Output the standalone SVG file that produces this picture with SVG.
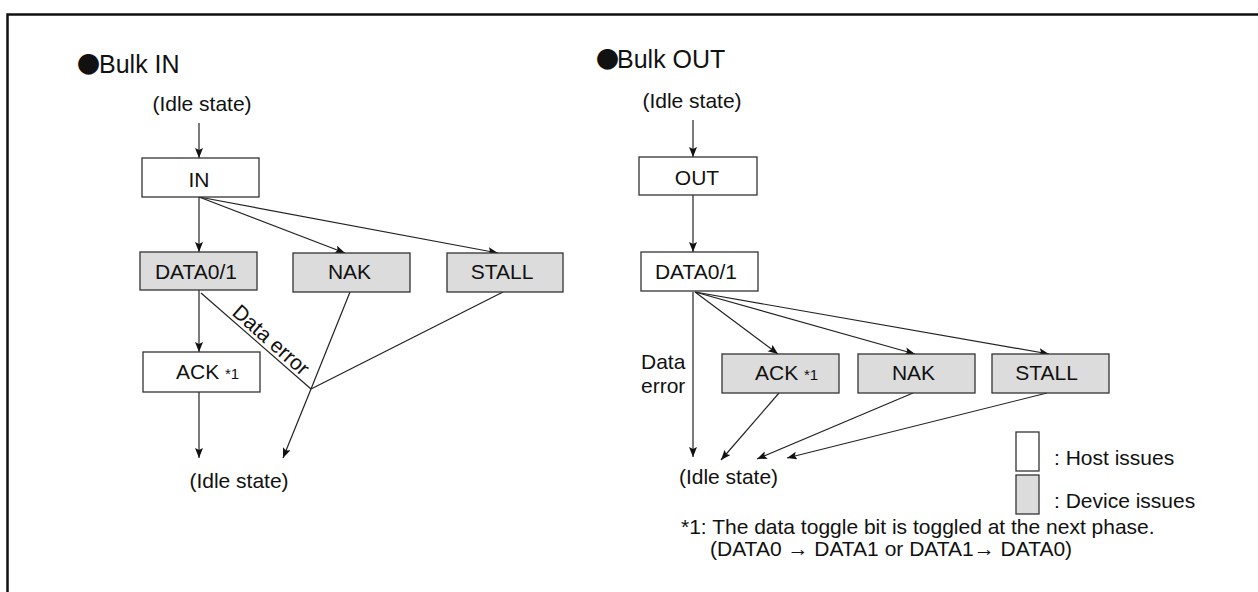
<svg xmlns="http://www.w3.org/2000/svg" width="1258" height="592" viewBox="0 0 1258 592">
<style>
text{font-family:"Liberation Sans",Arial,sans-serif;font-size:21px;fill:#111}
.t{font-size:25px}
.dot{font-family:"Noto Sans CJK JP","Liberation Sans",sans-serif;font-size:23px}
.sm{font-size:15px}
.m{text-anchor:middle}
.host{fill:#fff;stroke:#333;stroke-width:1.3}
.dev{fill:#dcdcdc;stroke:#333;stroke-width:1.3}
.c{fill:none;stroke:#222;stroke-width:1.2}
.a{marker-end:url(#ah)}
</style>
<defs>
<marker id="ah" markerUnits="userSpaceOnUse" markerWidth="12" markerHeight="10" refX="10" refY="4" orient="auto">
<path d="M0,0 L10,4 L0,8 L2,4 Z" fill="#111"/>
</marker>
</defs>
<rect width="1258" height="592" fill="#fff"/>
<path d="M7.5,592 V14.5 H1258" fill="none" stroke="#111" stroke-width="2.5"/>

<g id="titles">
<text x="77" y="73" class="t"><tspan class="dot">●</tspan><tspan x="99">Bulk IN</tspan></text>
<text x="596" y="68" class="t"><tspan class="dot">●</tspan><tspan x="617">Bulk OUT</tspan></text>
</g>

<g id="connectors">
<path class="c a" d="M199,123 V158"/>
<path class="c a" d="M199,197 V252"/>
<path class="c a" d="M199,197 L345,253"/>
<path class="c a" d="M199,197 L498,253"/>
<path class="c a" d="M199,290 V352"/>
<path class="c" d="M201,293 L311,389"/>
<path class="c" d="M350,292 L311,389"/>
<path class="c" d="M503,292 L311,389"/>
<path class="c a" d="M311,389 L283,458"/>
<path class="c a" d="M199,392 V458"/>
<text transform="translate(231,314) rotate(41.5)">Data error</text>

<path class="c a" d="M693,120 V157"/>
<path class="c a" d="M693,195 V252"/>
<path class="c a" d="M695,292 L778,354"/>
<path class="c a" d="M695,292 L915,354"/>
<path class="c a" d="M695,292 L1049,354"/>
<path class="c a" d="M693,292 V457"/>
<path class="c a" d="M779,393 L721,460"/>
<path class="c a" d="M913,393 L757,459"/>
<path class="c a" d="M1047,393 L787,458"/>
<text x="641" y="369">Data</text>
<text x="641" y="393">error</text>
</g>

<g id="in-idle-top"><text x="202" y="111" class="m">(Idle state)</text></g>
<g id="in-token"><rect class="host" x="142" y="158" width="117" height="39"/><text x="199" y="187" class="m">IN</text></g>
<g id="in-data"><rect class="dev" x="140" y="252" width="117" height="38"/><text x="196" y="279" class="m">DATA0/1</text></g>
<g id="in-nak"><rect class="dev" x="293" y="253" width="117" height="39"/><text x="349.5" y="279" class="m">NAK</text></g>
<g id="in-stall"><rect class="dev" x="447" y="253" width="116" height="39"/><text x="502" y="279" class="m">STALL</text></g>
<g id="in-ack"><rect class="host" x="143" y="352" width="117" height="40"/><text x="176" y="379">ACK <tspan class="sm">*1</tspan></text></g>
<g id="in-idle-bottom"><text x="239" y="488" class="m">(Idle state)</text></g>

<g id="out-idle-top"><text x="692" y="108" class="m">(Idle state)</text></g>
<g id="out-token"><rect class="host" x="639" y="157" width="118" height="38"/><text x="697" y="185" class="m">OUT</text></g>
<g id="out-data"><rect class="host" x="641" y="252" width="117" height="39"/><text x="696" y="279" class="m">DATA0/1</text></g>
<g id="out-ack"><rect class="dev" x="722" y="354" width="117" height="39"/><text x="755" y="380">ACK <tspan class="sm">*1</tspan></text></g>
<g id="out-nak"><rect class="dev" x="858" y="354" width="117" height="39"/><text x="913.5" y="380" class="m">NAK</text></g>
<g id="out-stall"><rect class="dev" x="992" y="354" width="117" height="39"/><text x="1046.5" y="380" class="m">STALL</text></g>
<g id="out-idle-bottom"><text x="728.5" y="484" class="m">(Idle state)</text></g>

<g id="legend">
<rect class="host" x="1016" y="432" width="23" height="39"/>
<text x="1054" y="465">: Host issues</text>
<rect class="dev" x="1016" y="475" width="23" height="39"/>
<text x="1054" y="508">: Device issues</text>
</g>

<g id="footnote">
<text x="681" y="534">*1: The data toggle bit is toggled at the next phase.</text>
<text x="710" y="556">(DATA0 → DATA1 or DATA1→ DATA0)</text>
</g>
</svg>
